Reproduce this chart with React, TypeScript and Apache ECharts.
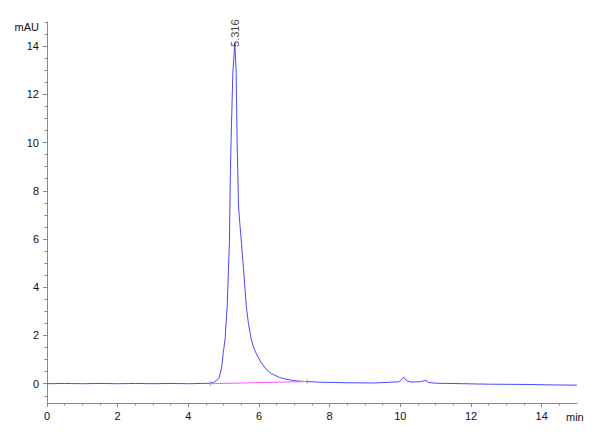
import React, { useEffect, useRef } from "react";
import * as echarts from "echarts";

// Chromatogram trace (retention time in min, absorbance in mAU)
const retentionTimes = [
  0, 0.5, 1, 1.5, 2, 2.5, 3, 3.5, 4, 4.4, 4.62, 4.72, 4.8, 4.88, 4.95, 4.99, 5.04, 5.1, 5.165, 5.19, 5.21, 5.26,
  5.316, 5.354, 5.38, 5.42, 5.46, 5.495, 5.57, 5.64, 5.7, 5.78, 5.86, 5.955, 6.05, 6.2, 6.35, 6.58, 6.75, 6.94,
  7.1, 7.33, 7.8, 8.5, 9.2, 9.6, 9.95, 10.03, 10.1, 10.18, 10.3, 10.55, 10.66, 10.72, 10.8, 11.0, 11.8, 12.5,
  13.5, 14.3, 15,
];
const absorbance = [
  0, 0.01, 0, 0.01, 0, 0.01, 0, 0.01, 0, 0.01, 0.02, 0.06, 0.13, 0.27, 0.74, 1.3, 1.84, 3.22, 6.0, 8.75, 10.1, 12.9,
  14.13, 12.9, 10.1, 7.37, 6.6, 6.0, 4.6, 3.22, 2.5, 1.84, 1.45, 1.15, 0.9, 0.6, 0.42, 0.26, 0.19, 0.14,
  0.11, 0.09, 0.06, 0.04, 0.03, 0.05, 0.08, 0.16, 0.27, 0.12, 0.07, 0.08, 0.12, 0.14, 0.05, 0.02, 0.0, -0.02,
  -0.03, -0.05, -0.06,
];

// Integration baseline of the main peak
const baselineTimes = [4.62, 7.36];
const baselineValues = [0.0, 0.09];

// Peak annotation
const peakTime = 5.316;
const peakHeight = 14.13;
const peakLabel = "5.316";

// Axis ticks
const xMajorTicks = [0, 2, 4, 6, 8, 10, 12, 14];
const yMajorTicks = [0, 2, 4, 6, 8, 10, 12, 14];
const xMin = 0;
const xMax = 15;
const yMin = -0.8;
const yMax = 15;

const minorTicks = (lo: number, hi: number) => {
  const out: number[] = [];
  for (let v = Math.ceil(lo * 2) / 2; v <= hi + 1e-9; v += 0.5) out.push(Math.round(v * 10) / 10);
  return out;
};

export default function App() {
  const ref = useRef<HTMLDivElement>(null);
  useEffect(() => {
    if (!ref.current) return;
    const chart = echarts.init(ref.current, null, { renderer: "svg" });
    const axisColor = "#8a8a8a";
    const font = "'Liberation Sans', Arial, sans-serif";
    const trace = retentionTimes.map((t, i) => [t, absorbance[i]]);
    const base = baselineTimes.map((t, i) => [t, baselineValues[i]]);
    chart.setOption({
      animation: false,
      backgroundColor: "#ffffff",
      grid: { left: 47, right: 23, top: 22, bottom: 37 },
      xAxis: [
        {
          type: "value",
          min: xMin,
          max: xMax,
          position: "bottom",
          axisLine: { show: true, onZero: false, lineStyle: { color: axisColor, width: 1 } },
          axisTick: { show: true, length: 4, customValues: xMajorTicks, lineStyle: { color: axisColor } },
          axisLabel: { customValues: xMajorTicks, margin: 7, fontSize: 11, color: "#111", fontFamily: font },
          splitLine: { show: false },
        },
        {
          type: "value",
          min: xMin,
          max: xMax,
          position: "bottom",
          offset: 0,
          axisLine: { show: false, onZero: false },
          axisTick: { show: true, length: 2.5, customValues: minorTicks(xMin, xMax - 0.5), lineStyle: { color: axisColor } },
          axisLabel: { show: false },
          splitLine: { show: false },
        },
      ],
      yAxis: [
        {
          type: "value",
          min: yMin,
          max: yMax,
          position: "left",
          axisLine: { show: true, onZero: false, lineStyle: { color: axisColor, width: 1 } },
          axisTick: { show: true, length: 4, customValues: yMajorTicks, lineStyle: { color: axisColor } },
          axisLabel: { customValues: yMajorTicks, margin: 8, fontSize: 11, color: "#111", fontFamily: font },
          splitLine: { show: false },
        },
        {
          type: "value",
          min: yMin,
          max: yMax,
          position: "left",
          offset: 0,
          axisLine: { show: false, onZero: false },
          axisTick: { show: true, length: 2.5, customValues: minorTicks(yMin, yMax), lineStyle: { color: axisColor } },
          axisLabel: { show: false },
          splitLine: { show: false },
        },
      ],
      series: [
        {
          type: "line",
          data: trace,
          xAxisIndex: 0,
          yAxisIndex: 0,
          symbol: "none",
          lineStyle: { color: "#4848ff", width: 1 },
          z: 2,
        },
        {
          type: "line",
          data: base,
          xAxisIndex: 0,
          yAxisIndex: 0,
          symbol: "none",
          lineStyle: { color: "#ff55ff", width: 1 },
          z: 3,
        },
        {
          type: "scatter",
          data: base,
          xAxisIndex: 0,
          yAxisIndex: 0,
          symbol: "rect",
          symbolSize: [1, 5],
          itemStyle: { color: "#9a9a9a" },
          z: 1,
        },
        {
          type: "scatter",
          data: [[peakTime, peakHeight]],
          xAxisIndex: 0,
          yAxisIndex: 0,
          symbolSize: 0,
          itemStyle: { color: "transparent" },
          label: {
            show: true,
            formatter: peakLabel,
            position: "top",
            distance: -4,
            rotate: 90,
            align: "left",
            verticalAlign: "middle",
            fontSize: 11,
            color: "#111",
            fontFamily: font,
          },
          z: 4,
        },
      ],
      graphic: [
        {
          type: "text",
          x: 39,
          y: 27,
          style: { text: "mAU", fontSize: 11, fill: "#111", font: `11px ${font}`, align: "right", verticalAlign: "middle" },
        },
        {
          type: "text",
          x: 566,
          y: 417,
          style: { text: "min", fontSize: 11, fill: "#111", font: `11px ${font}`, align: "left", verticalAlign: "middle" },
        },
      ],
    });
    return () => chart.dispose();
  }, []);
  return (
    <div
      ref={ref}
      style={{ position: "fixed", left: 0, top: 0, width: 600, height: 440, background: "#fff" }}
    />
  );
}
